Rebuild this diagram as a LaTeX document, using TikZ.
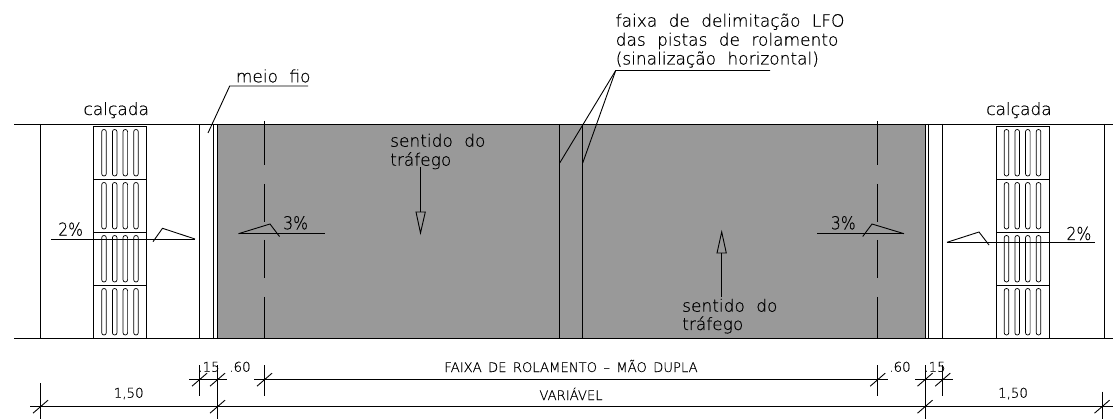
\documentclass[tikz,border=0pt]{standalone}
\usepackage{fontspec}
\setmainfont{DejaVu Sans ExtraLight}[WordSpace=2.1,RawFeature={embolden=0.3}]
\newfontfamily\capsf{DejaVu Sans ExtraLight}[WordSpace=1.5,RawFeature={embolden=0.3}]
\definecolor{pista}{HTML}{999999}
\tikzset{
  ln/.style={draw=black,line width=0.9pt},
  big/.style={font=\fontsize{17}{20}\selectfont,inner sep=0pt,anchor=base west,text=black},
  mid/.style={font=\capsf\fontsize{13.2}{16}\selectfont,inner sep=0pt,anchor=base,text=black},
  tinyt/.style={font=\capsf\fontsize{13.4}{16}\selectfont,inner sep=0pt,anchor=base,text=black},
}
\newcommand{\tilecol}[2]{%
  \draw[ln] (#1,#2) rectangle ++(53,53);
  \foreach \s in {10.5,21.2,31.8,42.5}
    \draw[line width=0.7pt,rounded corners=2.2pt] (#1+\s-2.3,#2+3.5) rectangle (#1+\s+2.3,#2+50);
}
\newcommand{\pct}[1]{\scalebox{.92}[1.05]{#1\%}}
\newcommand{\tk}[2]{\draw[ln] (#1-7.5,#2+6.5) -- (#1+7.5,#2-6.5);}
\begin{document}
\begin{tikzpicture}[x=1pt,y=-1pt]
\useasboundingbox (0,0) rectangle (1113,419);
\fill[white] (0,0) rectangle (1113,419);
\fill[pista] (217.5,124) rectangle (925,338);
% edges
\draw[ln] (14,124) -- (1113,124);
\draw[ln] (14,338) -- (1113,338);
\foreach \x in {40.5,199.5,213.5,217.5,559.7,582.7,925,928,942.7,1104.3}
  \draw[ln] (\x,124) -- (\x,338);
% dashed axes
\foreach \x in {264.5,877.7}{
  \draw[ln] (\x,121) -- (\x,165);
  \draw[ln] (\x,184) -- (\x,222);
  \draw[ln] (\x,240) -- (\x,278);
  \draw[ln] (\x,297) -- (\x,338);
}
% tiles
\foreach \y in {126,179,232,285}{
  \tilecol{93.5}{\y}
  \tilecol{996}{\y}
}
% leaders
\coordinate (lA) at (615.7,70.5);
\coordinate (lB) at (770,70.5);
\coordinate (lC) at (559.7,163);
\coordinate (lD) at (582.7,163);
\draw[ln] (lB) -- (lA) -- (lC);
\draw[ln] (lA) -- (lD);
\coordinate (mA) at (229.7,86);
\coordinate (mB) at (308,86);
\coordinate (mC) at (208,133);
\draw[ln] (mB) -- (mA) -- (mC);
% leader texts
\node[big] (t1) at (615.5,26.7) {faixa de delimitação LFO};
\node[big] (t2) at (615.5,45.7) {das pistas de rolamento};
\node[big] (t3) at (615.5,64.5) {(sinalização horizontal)};
\node[big] (t4) at (235.7,82.3) {meio fio};
\node[big] (t5) at (83.3,115) {calçada};
\node[big] (t6) at (986,115) {calçada};
% slopes
\draw[ln] (51,239) -- (195,239);
\draw[ln] (153,241.7) -- (162.5,228.3) -- (195,239);
\node[big] (p1) at (58,235.7) {\pct{2}};
\draw[ln] (238.5,233.7) -- (325,233.7);
\draw[ln] (238.5,233.7) -- (270,224) -- (279.5,236.5);
\node[big] (p2) at (283,229.3) {\pct{3}};
\draw[ln] (817,233.7) -- (904,233.7);
\draw[ln] (862.7,236.5) -- (872,224) -- (904,233.7);
\node[big] (p3) at (830.7,229.3) {\pct{3}};
\draw[ln] (947,242.3) -- (1095,242.3);
\draw[ln] (947,242.3) -- (979,232) -- (989,245);
\node[big] (p4) at (1066.3,240) {\pct{2}};
% traffic
\node[big] (s1) at (390,146.7) {sentido do};
\node[big] (s2) at (390,165.7) {tráfego};
\node[big] (s3) at (682,311.7) {sentido do};
\node[big] (s4) at (682,330) {tráfego};
\draw[ln] (420.5,167) -- (420.5,212);
\draw[ln] (416,212) -- (425.3,212) -- (420.5,233) -- cycle;
\draw[ln] (721.7,297) -- (721.7,253);
\draw[ln] (717,253) -- (726.3,253) -- (721.7,232) -- cycle;
% dimensions
\draw[ln] (189,379.7) -- (227,379.7);
\draw[ln] (254,379.7) -- (888,379.7);
\draw[ln] (915,379.7) -- (953,379.7);
\draw[ln] (30,406.7) -- (1113,406.7);
\foreach \x in {199.5,264.5,877.7,942.7}
  \draw[ln] (\x,365) -- (\x,395.7);
\draw[ln] (217.5,365) -- (217.5,419);
\draw[ln] (925,365) -- (925,419);
\draw[ln] (40.5,383) -- (40.5,419);
\draw[ln] (1102,391.7) -- (1102,419);
\foreach \x in {199.5,217.5,264.5,877.7,925,942.7} { \tk{\x}{379.7} }
\foreach \x in {40.5,217.5,925,1102} { \tk{\x}{406.7} }
\node[mid] (d1) at (571,372) {FAIXA DE ROLAMENTO – MÃO DUPLA};
\node[mid] (d2) at (571,400) {VARIÁVEL};
\node[tinyt] (d3) at (128.7,397.7) {1,50};
\node[tinyt] (d4) at (1013,397.7) {1,50};
\node[tinyt] (d5) at (209,371.7) {.15};
\node[tinyt] (d6) at (240,371.7) {.60};
\node[tinyt] (d7) at (900,371.7) {.60};
\node[tinyt] (d8) at (935,371.7) {.15};
\end{tikzpicture}
\end{document}
